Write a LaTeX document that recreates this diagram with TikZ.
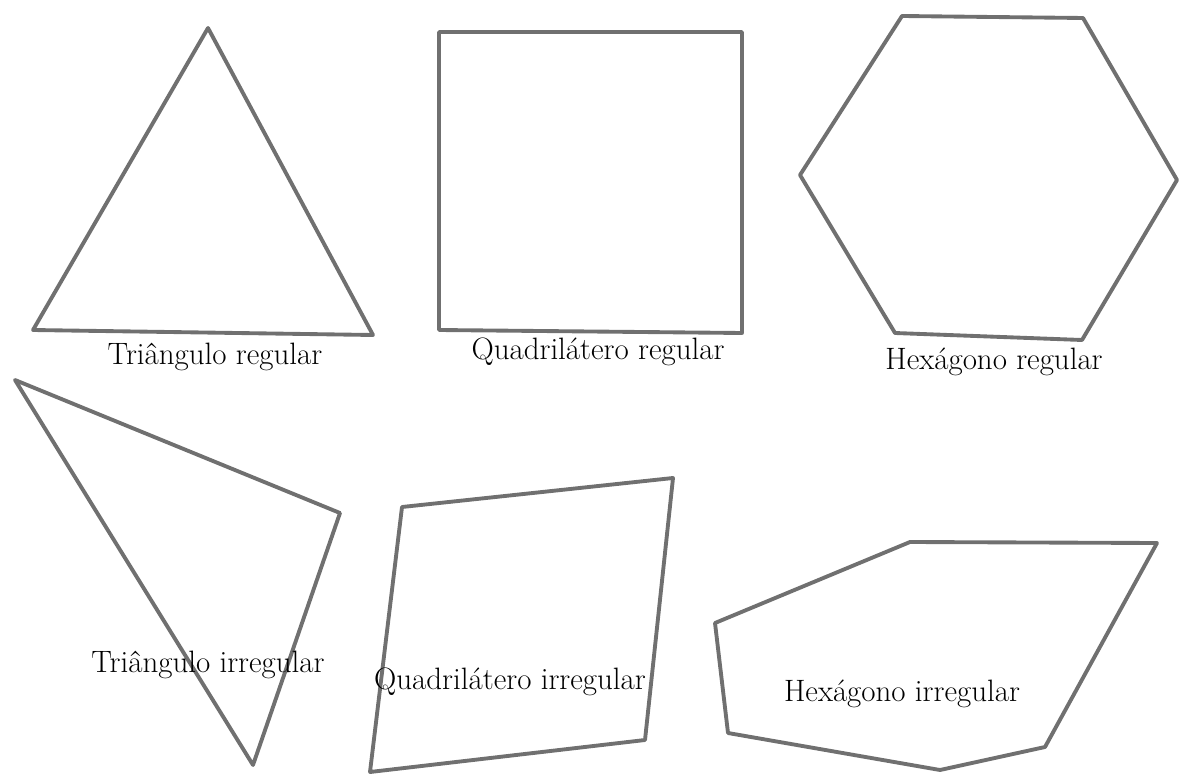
\documentclass[tikz,border=0pt]{standalone}
\usepackage{tikz}

\begin{document}
\begin{tikzpicture}[x=0.02cm, y=-0.02cm, line join=round, line cap=round]

\definecolor{pencil}{HTML}{707070}
\tikzset{poly/.style={draw=pencil, line width=2.2pt},
         lbl/.style={font=\fontsize{17.6}{21}\selectfont, inner sep=0pt}}

\useasboundingbox (0,0) rectangle (1185,776);

% regular polygons
\draw[poly] (208,28) -- (373,335) -- (33,330) -- cycle;
\draw[poly] (439,32) -- (742,32) -- (742,333) -- (439,330) -- cycle;
\draw[poly] (902,16) -- (1083,18) -- (1177,180) -- (1082,340) -- (895,333) -- (800,175) -- cycle;

\node[lbl] (trireg)  at (215,357) {Triângulo regular};
\node[lbl] (quadreg) at (598,352) {Quadrilátero regular};
\node[lbl] (hexreg)  at (994,362) {Hexágono regular};

% irregular polygons
\draw[poly] (15,380) -- (340,513) -- (253,765) -- cycle;
\draw[poly] (402,507) -- (673,478) -- (645,740) -- (370,772) -- cycle;
\draw[poly] (910,542) -- (1157,543) -- (1045,747) -- (940,770) -- (728,733) -- (715,623) -- cycle;

\node[lbl] (triirr)  at (208,665) {Triângulo irregular};
\node[lbl] (quadirr) at (510,682) {Quadrilátero irregular};
\node[lbl] (hexirr)  at (902,694) {Hexágono irregular};

\end{tikzpicture}
\end{document}
